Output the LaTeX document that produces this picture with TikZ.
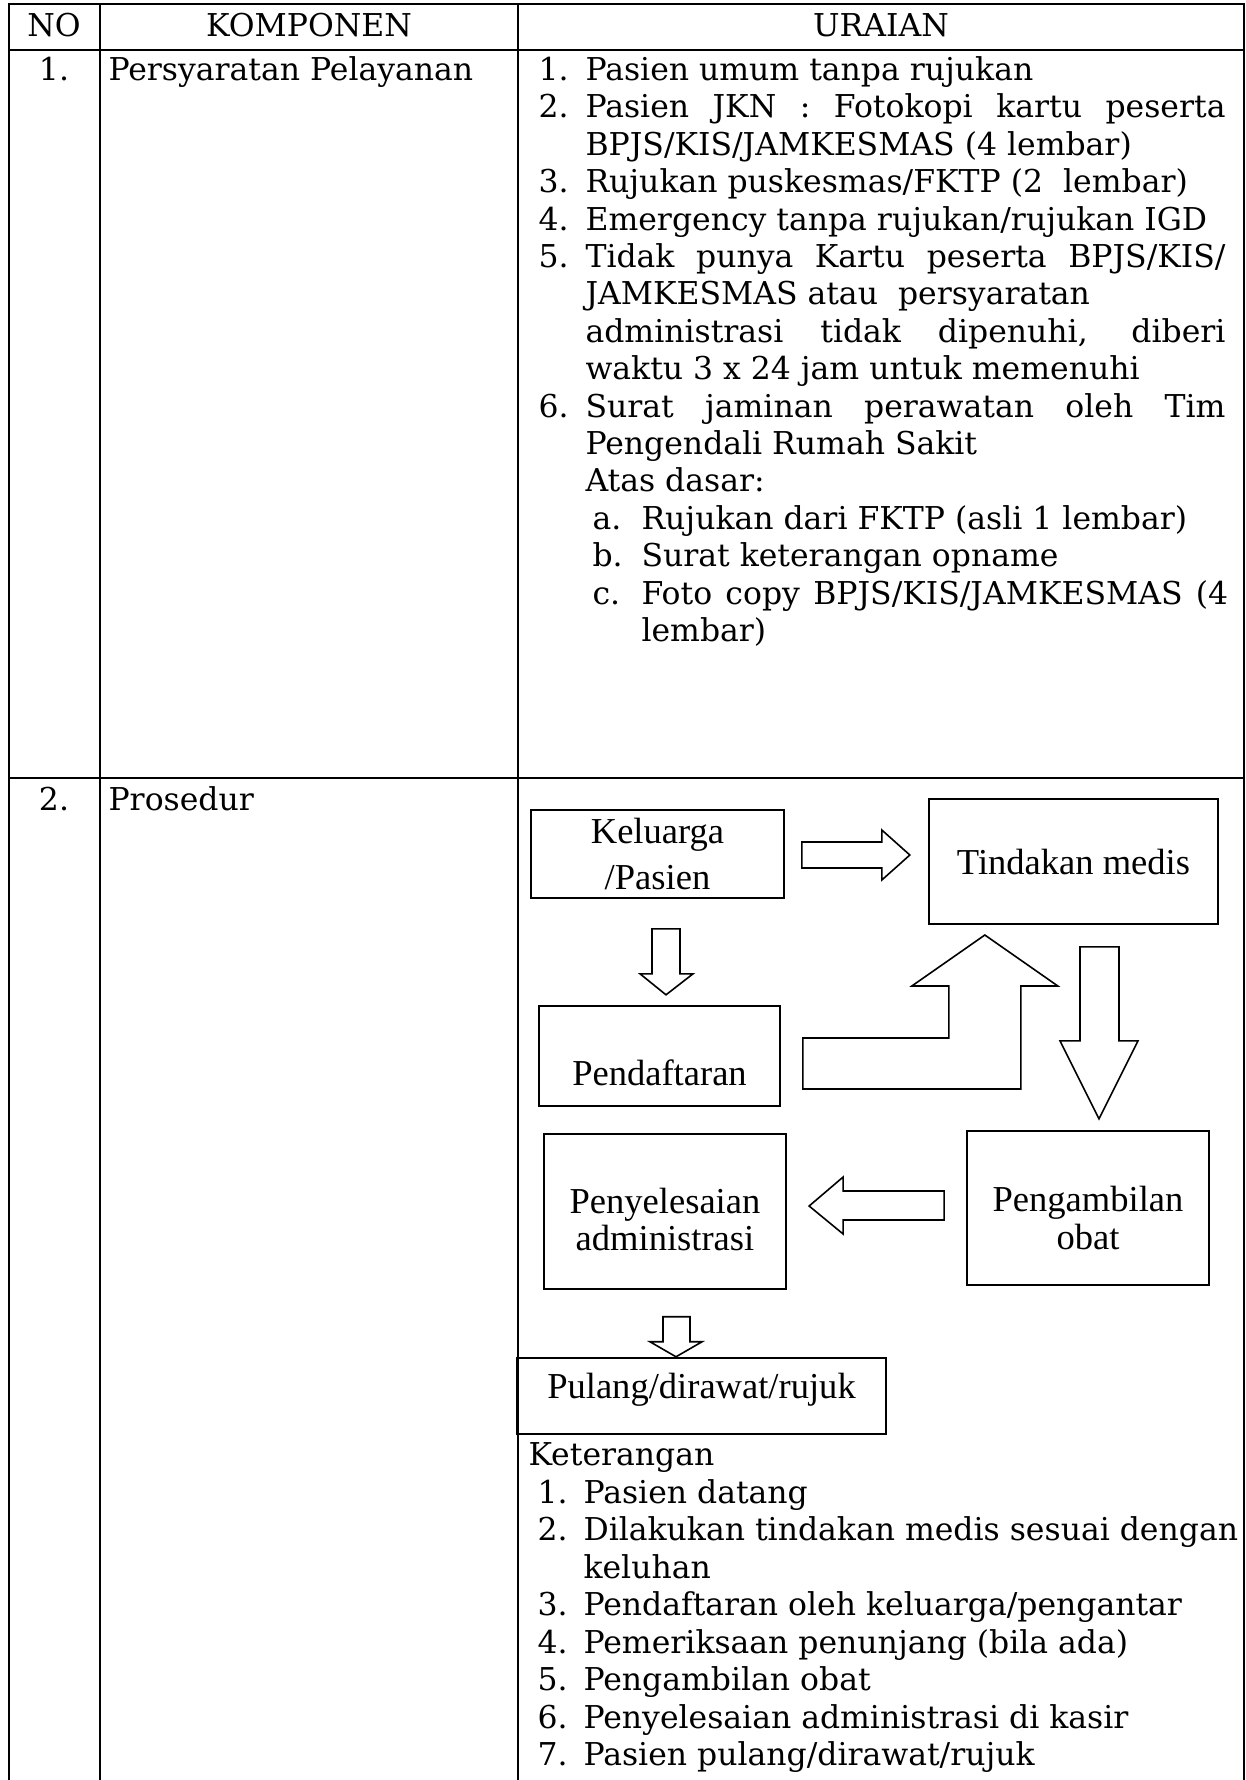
\documentclass[tikz,border=0pt]{standalone}
\usepackage{fontspec}
\setmainfont{DejaVu Serif}
\newfontfamily\flowfont{Liberation Serif}
\begin{document}
\begin{tikzpicture}[x=0.375pt,y=-0.375pt,
        txt/.style={anchor=base west,inner sep=0pt,font=\fontsize{11.8}{14}\selectfont},
        ctxt/.style={txt,anchor=base},
        box/.style={draw,line width=0.6pt,inner sep=0pt,align=center,font=\flowfont\fontsize{13.7}{14}\selectfont},
        hollow/.style={draw,line width=0.6pt}]
    \useasboundingbox (0,0) rectangle (1246,1780);
    % table grid, open at the bottom
    \draw[line width=1pt] (9,1780) -- (9,4) -- (1244,4) -- (1244,1780);
    \draw[line width=1pt] (100,4) -- (100,1780) (518,4) -- (518,1780) (9,50) -- (1244,50) (9,778) -- (1244,778);
    % header
    \node[ctxt] (noH) at (54,36) {NO};
    \node[ctxt] (kompH) at (309,36) {KOMPONEN};
    \node[ctxt] (uraianH) at (881,36) {URAIAN};
    % row 1
    \node[ctxt] (no1) at (54,80) {1.};
    \node[txt] (komp1) at (108,80) {Persyaratan Pelayanan};
    \node[txt] (r1n) at (538,80) {1.};
    \node[txt] (r1) at (585,80) {Pasien umum tanpa rujukan};
    \node[txt] (r2n) at (538,117) {2.};
    \node[txt] (r2) at (585,117) {\makebox[240pt][s]{Pasien JKN : Fotokopi kartu peserta}};
    \node[txt] (r2b) at (585,155) {BPJS/KIS/JAMKESMAS (4 lembar)};
    \node[txt] (r3n) at (538,192) {3.};
    \node[txt] (r3) at (585,192) {Rujukan puskesmas/FKTP (2~ lembar)};
    \node[txt] (r4n) at (538,230) {4.};
    \node[txt] (r4) at (585,230) {Emergency tanpa rujukan/rujukan IGD};
    \node[txt] (r5n) at (538,267) {5.};
    \node[txt] (r5) at (585,267) {\makebox[240pt][s]{Tidak punya Kartu peserta BPJS/KIS/}};
    \node[txt] (r5b) at (585,304) {JAMKESMAS atau~ persyaratan};
    \node[txt] (r5c) at (585,342) {\makebox[240pt][s]{administrasi tidak dipenuhi, diberi}};
    \node[txt] (r5d) at (585,379) {waktu 3 x 24 jam untuk memenuhi};
    \node[txt] (r6n) at (538,417) {6.};
    \node[txt] (r6) at (585,417) {\makebox[240pt][s]{Surat jaminan perawatan oleh Tim}};
    \node[txt] (r6b) at (585,454) {Pengendali Rumah Sakit};
    \node[txt] (r6c) at (585,491) {Atas dasar:};
    \node[txt] (ran) at (592,529) {a.};
    \node[txt] (ra) at (641,529) {Rujukan dari FKTP (asli 1 lembar)};
    \node[txt] (rbn) at (592,566) {b.};
    \node[txt] (rb) at (641,566) {Surat keterangan opname};
    \node[txt] (rcn) at (592,604) {c.};
    \node[txt] (rc) at (641,604) {\makebox[220pt][s]{Foto copy BPJS/KIS/JAMKESMAS (4}};
    \node[txt] (rc2) at (641,641) {lembar)};
    % row 2
    \node[ctxt] (no2) at (54,810) {2.};
    \node[txt] (komp2) at (108,810) {Prosedur};
    % flow boxes
    \node[box,minimum width=94.9pt,minimum height=33pt] (keluarga) at (657.5,854) {Keluarga\\[3pt]/Pasien};
    \node[box,minimum width=108.4pt,minimum height=46.9pt] (tindakan) at (1073.5,861.5) {Tindakan medis};
    \node[box,minimum width=90.4pt,minimum height=37.5pt] (daftar) at (659.5,1056) {\raisebox{-10.9pt}[0pt][0pt]{Pendaftaran}};
    \node[box,minimum width=90.8pt,minimum height=57.8pt] (obat) at (1088,1208) {\rule{0pt}{17pt}Pengambilan\\obat};
    \node[box,minimum width=90.8pt,minimum height=58.1pt] (admin) at (665,1211.5) {\rule{0pt}{15.4pt}Penyelesaian\\administrasi};
    \node[box,minimum width=138.4pt,minimum height=28.5pt] (pulang) at (701.5,1396) {\raisebox{-0.8pt}[0pt][0pt]{Pulang/dirawat/rujuk}};
    % hollow arrows, placed from the box they leave
    \draw[hollow,shift={(keluarga.east)}] (17,-12) -- (97,-12) -- (97,-24) -- (125,1) -- (97,26) -- (97,14) -- (17,14) -- cycle;
    \draw[hollow,shift={(keluarga.south)}] (-5.5,30) -- (22.5,30) -- (22.5,75) -- (35.5,75) -- (8.5,96) -- (-17.5,75) -- (-5.5,75) -- cycle;
    \draw[hollow,shift={(daftar.east)}] (22,-18) -- (168,-18) -- (168,-70) -- (131,-70) -- (204,-121) -- (277,-70) -- (240,-70) -- (240,33) -- (22,33) -- cycle;
    \draw[hollow,shift={(tindakan.south)}] (6.5,22) -- (45.5,22) -- (45.5,116) -- (64.5,116) -- (25.5,194) -- (-13.5,116) -- (6.5,116) -- cycle;
    \draw[hollow,shift={(obat.west)}] (-22,-17) -- (-123,-17) -- (-123,-31) -- (-157,-2) -- (-123,26) -- (-123,12) -- (-22,12) -- cycle;
    \draw[hollow,shift={(admin.south)}] (-2,27) -- (25,27) -- (25,52) -- (37,52) -- (11,67) -- (-15,52) -- (-2,52) -- cycle;
    % keterangan
    \node[txt] (ket) at (528,1465) {Keterangan};
    \node[txt] (k1n) at (537,1503) {1.};
    \node[txt] (k1) at (583,1503) {Pasien datang};
    \node[txt] (k2n) at (537,1540) {2.};
    \node[txt] (k2) at (583,1540) {Dilakukan tindakan medis sesuai dengan};
    \node[txt] (k2b) at (583,1578) {keluhan};
    \node[txt] (k3n) at (537,1615) {3.};
    \node[txt] (k3) at (583,1615) {Pendaftaran oleh keluarga/pengantar};
    \node[txt] (k4n) at (537,1653) {4.};
    \node[txt] (k4) at (583,1653) {Pemeriksaan penunjang (bila ada)};
    \node[txt] (k5n) at (537,1690) {5.};
    \node[txt] (k5) at (583,1690) {Pengambilan obat};
    \node[txt] (k6n) at (537,1728) {6.};
    \node[txt] (k6) at (583,1728) {Penyelesaian administrasi di kasir};
    \node[txt] (k7n) at (537,1765) {7.};
    \node[txt] (k7) at (583,1765) {Pasien pulang/dirawat/rujuk};
\end{tikzpicture}
\end{document}
